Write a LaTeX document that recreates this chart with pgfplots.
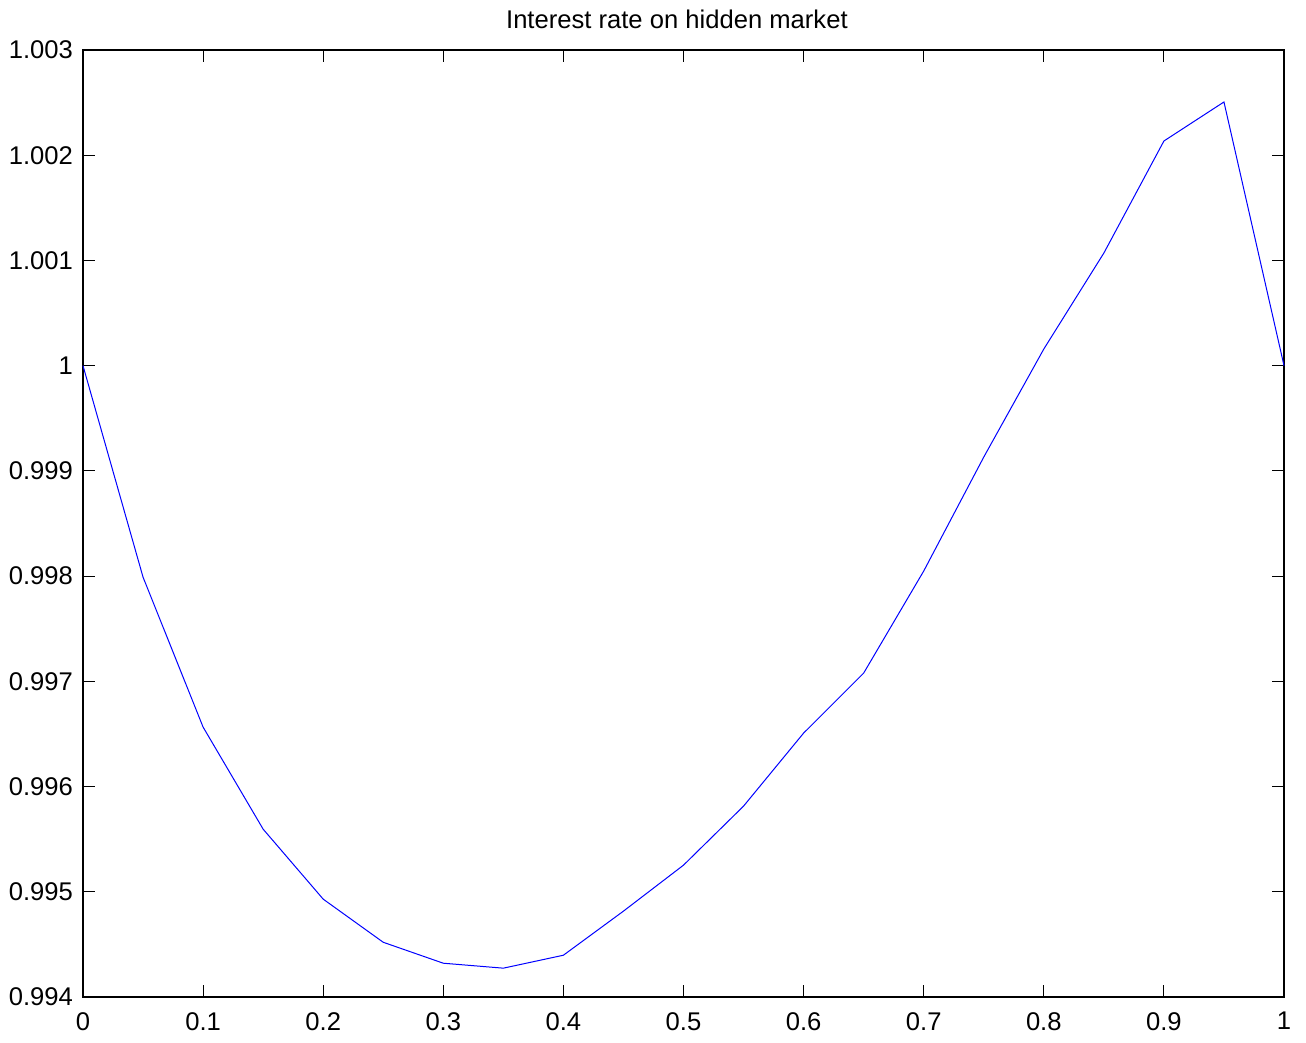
\documentclass[border=0pt]{standalone}
\usepackage{fontspec}
\setmainfont{Liberation Sans}
\usepackage{pgfplots}
\pgfplotsset{compat=1.18}
\begin{document}
\fontsize{12.8pt}{15pt}\selectfont
\begin{tikzpicture}
\begin{axis}[
  scale only axis,
  width=600.5pt, height=473.5pt,
  xmin=0, xmax=1, ymin=0.994, ymax=1.003,
  xtick={0,0.1,...,1.0},
  ytick={0.994,0.995,0.996,0.997,0.998,0.999,1,1.001,1.002,1.003},
  yticklabels={0.994,0.995,0.996,0.997,0.998,0.999,1,1.001,1.002,1.003},
  xticklabels={0,0.1,0.2,0.3,0.4,0.5,0.6,0.7,0.8,0.9,1},
  tick align=inside,
  major tick length=6pt,
  tick style={line width=0.5pt, black},
  axis line style={line width=0.6pt},
  every axis/.append style={line width=0.6pt},
  ticklabel style={font=\fontsize{12.8pt}{15pt}\selectfont},
  yticklabel style={xshift=-0.5pt},
  xticklabel style={yshift=-3pt},
  title={Interest rate on hidden market},
  title style={font=\fontsize{12.8pt}{15pt}\selectfont, xshift=-3.3pt},
  scaled y ticks=false,
  clip=false,
]
\addplot[blue, line width=0.5pt] coordinates {
(0.00,1.000000)
(0.05,0.997990)
(0.10,0.996565)
(0.15,0.995595)
(0.20,0.994930)
(0.25,0.994520)
(0.30,0.994321)
(0.35,0.994274)
(0.40,0.994397)
(0.45,0.994816)
(0.50,0.995253)
(0.55,0.995814)
(0.60,0.996508)
(0.65,0.997078)
(0.70,0.998048)
(0.75,0.999131)
(0.80,1.000158)
(0.85,1.001070)
(0.90,1.002135)
(0.95,1.002506)
(1.00,1.000000)
};
\end{axis}
\pgfresetboundingbox
\path ([shift={(-41.5pt,-23pt)}]current axis.south west) rectangle ([shift={(11pt,25pt)}]current axis.north east);
\end{tikzpicture}
\end{document}
